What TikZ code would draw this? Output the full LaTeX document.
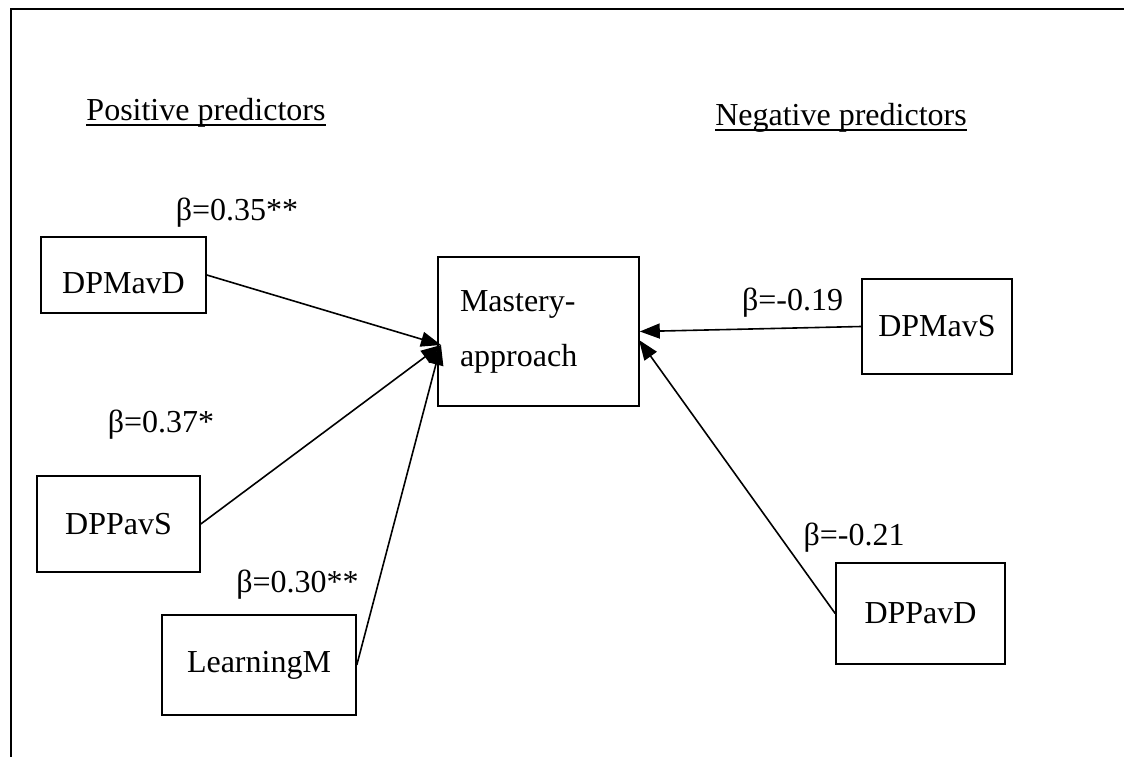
\documentclass[tikz,border=0pt]{standalone}
\usepackage{fontspec}
\setmainfont{Liberation Serif}
\usetikzlibrary{arrows.meta}

\begin{document}
\begin{tikzpicture}[
    x=1pt, y=-1pt,
    every node/.style = {font=\fontsize{32}{55}\selectfont},
    var/.style = {draw, line width=1.6pt, inner sep=0pt},
    coef/.style = {anchor=base, inner sep=0pt},
    heading/.style = {anchor=base, inner sep=0pt},
    link/.style = {line width=1.6pt, -{Triangle[length=20pt, width=15pt]}},
    ]
    \useasboundingbox (0,0) rectangle (1124,757);
    \draw[line width=1.4pt] (1124,9) -- (11,9) -- (11,757);

    \node[heading] (pos) at (206,121) {Positive predictors};
    \node[heading] (neg) at (841,126) {Negative predictors};
    \draw[line width=1.2pt] ([yshift=-4pt]pos.base west) -- ([yshift=-4pt]pos.base east);
    \draw[line width=1.2pt] ([yshift=-4pt]neg.base west) -- ([yshift=-4pt]neg.base east);

    \node[var, minimum width=165pt, minimum height=76pt, text height=38pt] (dpmavd) at (123.5,275) {DPMavD};
    \node[var, minimum width=163pt, minimum height=96pt] (dppavs) at (118.5,524) {DPPavS};
    \node[var, minimum width=194pt, minimum height=100pt] (learnm) at (259,665) {LearningM};
    \node[var, minimum width=201pt, minimum height=149pt, text width=157pt, align=left] (mastery) at (538.5,331.5) {Mastery-\\approach};
    \node[var, minimum width=150pt, minimum height=95pt] (dpmavs) at (937,326.5) {DPMavS};
    \node[var, minimum width=169pt, minimum height=101pt] (dppavd) at (920.5,613.5) {DPPavD};

    \coordinate (inL) at (441,345);
    \coordinate (inR) at (639,340);

    \draw[link] (dpmavd.east) -- (inL);
    \draw[link] (dppavs.east) -- (inL);
    \draw[link] (learnm.east) -- (inL);
    \draw[link] (dpmavs.west) -- (mastery.east);
    \draw[link] (dppavd.west) -- (inR);

    \node[coef] (b1) at (237,220) {β=0.35**};
    \node[coef] (b2) at (161,432) {β=0.37*};
    \node[coef] (b3) at (297.5,592) {β=0.30**};
    \node[coef] (b4) at (792.5,310) {β=-0.19};
    \node[coef] (b5) at (854,545) {β=-0.21};
\end{tikzpicture}
\end{document}
